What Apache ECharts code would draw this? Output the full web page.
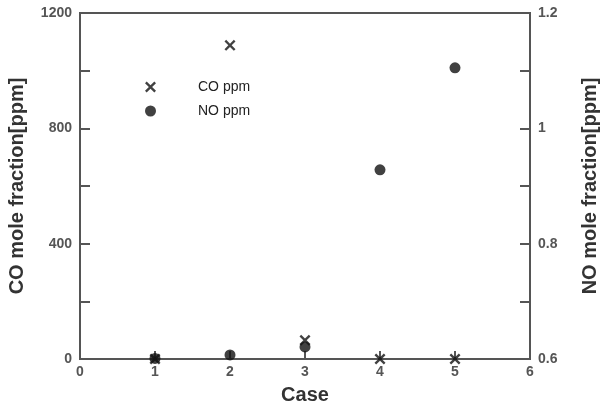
<!DOCTYPE html>
<html>
<head>
<meta charset="utf-8">
<script src="https://cdn.jsdelivr.net/npm/echarts@6/dist/echarts.min.js"></script>
<style>
    html, body { margin: 0; padding: 0; background: #fff; }
    #chart { width: 602px; height: 412px; }
</style>
</head>
<body>
<div id="chart"></div>
<script>
// case numbers and measured values
var cases = [1, 2, 3, 4, 5];
var coPpm = [0, 1088, 65, 0, 0];
var noPpm = [0.601, 0.607, 0.621, 0.928, 1.105];

var xTicks = { min: 0, max: 6, step: 1 };
var coTicks = { min: 0, max: 1200, step: 200 };
var noTicks = { min: 0.6, max: 1.2, step: 0.1 };

var crossIcon = 'path://M1.5,0L5,3.5L8.5,0L10,1.5L6.5,5L10,8.5L8.5,10L5,6.5L1.5,10L0,8.5L3.5,5L0,1.5Z';

var chart = echarts.init(document.getElementById('chart'));

var fontFam = 'Liberation Sans, Arial, sans-serif';
var labelStyle = {
    color: '#555',
    fontSize: 14,
    fontWeight: 'bold',
    fontFamily: fontFam
};
var nameStyle = {
    color: '#333',
    fontSize: 20,
    fontWeight: 'bold',
    fontFamily: fontFam
};
var lineStyle = { color: '#555', width: 2 };

var option = {
    animation: false,
    backgroundColor: '#fff',
    grid: {
        left: 80, right: 72, top: 13, bottom: 53,
        outerBoundsMode: 'none',
        containLabel: false,
        show: true, borderColor: '#555', borderWidth: 2
    },
    legend: {
        orient: 'vertical',
        left: 140,
        top: 75,
        itemWidth: 11,
        itemHeight: 11,
        itemGap: 10,
        textStyle: {
            color: '#222',
            fontSize: 14,
            fontFamily: fontFam,
            padding: [0, 0, 0, 37]
        },
        data: [
            { name: 'CO ppm', icon: crossIcon },
            { name: 'NO ppm', icon: 'circle' }
        ]
    },
    xAxis: {
        type: 'value',
        min: xTicks.min, max: xTicks.max, interval: xTicks.step,
        name: 'Case',
        nameLocation: 'middle',
        nameGap: 26,
        nameTextStyle: nameStyle,
        axisLine: { lineStyle: lineStyle },
        axisTick: { inside: true, length: 8, lineStyle: lineStyle },
        axisLabel: Object.assign({ margin: 6 }, labelStyle),
        splitLine: { show: false }
    },
    yAxis: [
        {
            type: 'value',
            min: coTicks.min, max: coTicks.max, interval: coTicks.step,
            name: 'CO mole fraction[ppm]',
            nameLocation: 'middle',
            nameGap: 53,
            nameTextStyle: nameStyle,
            axisLine: { show: true, lineStyle: lineStyle },
            axisTick: { show: true, inside: true, length: 10, lineStyle: lineStyle },
            axisLabel: Object.assign({
                margin: 8,
                formatter: function (v) { return v % 400 === 0 ? String(v) : ''; }
            }, labelStyle),
            splitLine: { show: false }
        },
        {
            type: 'value',
            position: 'right',
            min: noTicks.min, max: noTicks.max, interval: noTicks.step,
            name: 'NO mole fraction[ppm]',
            nameLocation: 'middle',
            nameGap: 50,
            nameRotate: 90,
            nameTextStyle: nameStyle,
            axisLine: { show: true, lineStyle: lineStyle },
            axisTick: { show: true, inside: true, length: 10, lineStyle: lineStyle },
            axisLabel: Object.assign({
                margin: 8,
                formatter: function (v) {
                    var k = Math.round(v * 10);
                    return k % 2 === 0 ? String(+v.toFixed(1)) : '';
                }
            }, labelStyle),
            splitLine: { show: false }
        }
    ],
    series: [
        {
            name: 'CO ppm',
            type: 'scatter',
            yAxisIndex: 0,
            symbol: crossIcon,
            symbolSize: 11,
            itemStyle: { color: '#111' },
            z: 3,
            data: cases.map(function (c, i) { return [c, coPpm[i]]; })
        },
        {
            name: 'NO ppm',
            type: 'scatter',
            yAxisIndex: 1,
            symbol: 'circle',
            symbolSize: 11,
            itemStyle: { color: '#111' },
            z: 2,
            data: cases.map(function (c, i) { return [c, noPpm[i]]; })
        }
    ]
};

chart.setOption(option);
</script>
</body>
</html>
